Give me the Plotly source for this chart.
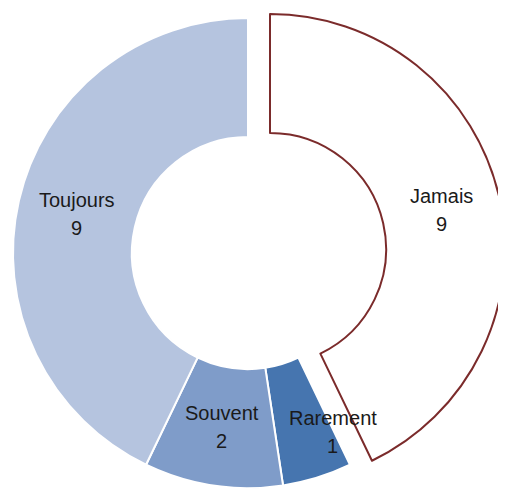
import math
import plotly.graph_objects as go

labels = ["Jamais", "Rarement", "Souvent", "Toujours"]
values = [9, 1, 2, 9]
colors = ["#FFFFFF", "#4675AF", "#7F9CC9", "#B5C4DF"]

OFF = 8  # page body margin of the browser
W, H = 506 - OFF, 493 - OFF
CX, CY, R = 248 - OFF, 253 - OFF, 235
HOLE = 0.494
PULL_DX, PULL_DY = 22, -4
FONT = "Liberation Sans"
FSIZE = 20

def dom(cx, cy, r):
    return dict(x=[(cx - r) / W, (cx + r) / W],
                y=[1 - (cy + r) / H, 1 - (cy - r) / H])

n = len(labels)
transparent = "rgba(0,0,0,0)"

fig = go.Figure()
# base ring: every slice except the detached one
fig.add_trace(go.Pie(
    labels=labels, values=values, sort=False, direction="clockwise", rotation=0,
    hole=HOLE, domain=dom(CX, CY, R), textinfo="none", hoverinfo="label+value",
    marker=dict(colors=[transparent] + colors[1:],
                line=dict(color=[transparent] + ["#FFFFFF"] * (n - 1),
                          width=[0] + [2] * (n - 1))),
    showlegend=False,
))
# detached slice (Jamais)
fig.add_trace(go.Pie(
    labels=labels, values=values, sort=False, direction="clockwise", rotation=0,
    hole=HOLE, domain=dom(CX + PULL_DX, CY + PULL_DY, R), textinfo="none",
    hoverinfo="label+value",
    marker=dict(colors=[colors[0]] + [transparent] * (n - 1),
                line=dict(color=["#7B2B2B"] + [transparent] * (n - 1),
                          width=[2] + [0] * (n - 1))),
    showlegend=False,
))

total = sum(values)
label_shift = {"Rarement": (33, 11)}
annotations = []
cum = 0
rmid = R * (1 + HOLE) / 2
for lab, v in zip(labels, values):
    ang = (cum + v / 2) / total * 2 * math.pi
    cum += v
    cx, cy = (CX + PULL_DX, CY + PULL_DY) if lab == "Jamais" else (CX, CY)
    x = cx + rmid * math.sin(ang)
    y = cy - rmid * math.cos(ang)
    dx, dy = label_shift.get(lab, (0, 0))
    x += dx
    y += dy
    for txt, off in ((lab, -14), (str(v), 14)):
        annotations.append(dict(
            x=x / W, y=1 - (y + off) / H, xref="paper", yref="paper",
            text=txt, showarrow=False, xanchor="center", yanchor="middle",
            font=dict(family=FONT, size=FSIZE, color="#1A1A1A"),
        ))

fig.update_layout(
    width=W, height=H, margin=dict(l=0, r=0, t=0, b=0),
    paper_bgcolor="#FFFFFF", plot_bgcolor="#FFFFFF",
    annotations=annotations,
)
fig.write_html("out.html")
